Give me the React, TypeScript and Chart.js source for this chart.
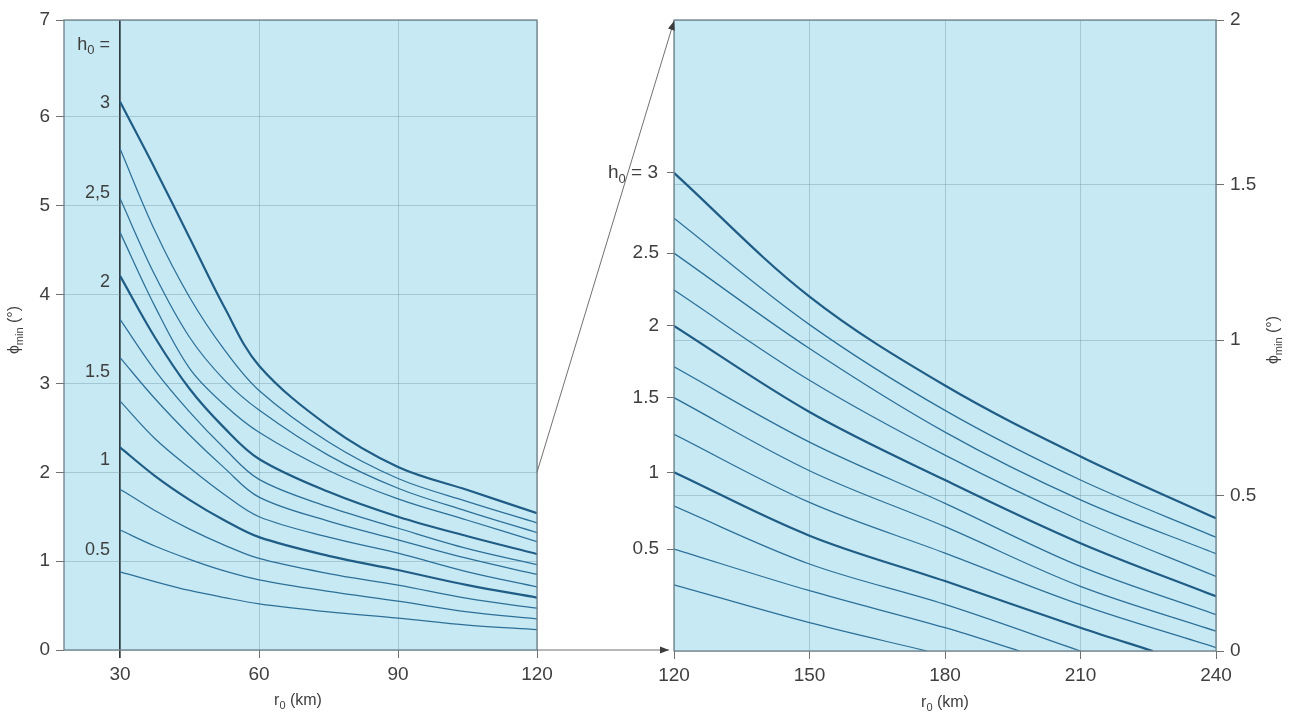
import React, { useEffect, useRef } from "react";
import { Chart, registerables } from "chart.js";

Chart.register(...registerables);

const W = 1291;
const H = 722;

// h0 values of the curves (top to bottom)
const H_VALUES = [3, 2.75, 2.5, 2.25, 2, 1.75, 1.5, 1.25, 1, 0.75, 0.5, 0.25];
const THICK_H = [3, 2, 1];

// ---------- Left panel (r0 30..120 km) ----------
const LEFT_R = [30, 37.5, 45, 52.5, 60, 75, 90, 105, 120];
const L300 = [6.17, 5.42, 4.64, 3.86, 3.2, 2.52, 2.06, 1.8, 1.54];
const L275 = [5.64, 4.72, 3.97, 3.38, 2.92, 2.34, 1.93, 1.67, 1.43];
const L250 = [5.08, 4.22, 3.52, 3.04, 2.7, 2.19, 1.82, 1.56, 1.32];
const L225 = [4.7, 3.87, 3.17, 2.76, 2.45, 2.02, 1.7, 1.46, 1.22];
const L200 = [4.21, 3.52, 2.94, 2.5, 2.15, 1.78, 1.5, 1.28, 1.08];
const L175 = [3.72, 3.15, 2.68, 2.27, 1.92, 1.61, 1.37, 1.14, 0.96];
const L150 = [3.29, 2.83, 2.42, 2.05, 1.72, 1.45, 1.24, 1.03, 0.85];
const L125 = [2.8, 2.38, 2.05, 1.75, 1.5, 1.27, 1.09, 0.88, 0.71];
const L100 = [2.28, 1.96, 1.69, 1.46, 1.27, 1.06, 0.9, 0.73, 0.59];
const L075 = [1.81, 1.57, 1.36, 1.18, 1.03, 0.86, 0.73, 0.58, 0.47];
const L050 = [1.35, 1.17, 1.02, 0.89, 0.79, 0.66, 0.55, 0.43, 0.35];
const L025 = [0.88, 0.77, 0.67, 0.59, 0.52, 0.43, 0.36, 0.28, 0.23];
const LEFT_SERIES = [L300, L275, L250, L225, L200, L175, L150, L125, L100, L075, L050, L025];

const LEFT_X_MIN = 17.9;
const LEFT_X_MAX = 120;
const LEFT_Y_TOP = 7.09;
const LEFT_X_TICKS = [30, 60, 90, 120];
const LEFT_Y_TICKS = [0, 1, 2, 3, 4, 5, 6, 7];
const LEFT_H_LABELS = ["3", "2,5", "2", "1.5", "1", "0.5"];
const LEFT_H_LABEL_Y = [6.15, 5.14, 4.14, 3.13, 2.14, 1.13];
const LEFT_H_TITLE_Y = 6.81;

// ---------- Right panel (r0 120..240 km) ----------
const RIGHT_R = [120, 150, 180, 210, 240];
const R300 = [1.538, 1.14, 0.854, 0.626, 0.427];
const R275 = [1.392, 1.05, 0.774, 0.55, 0.366];
const R250 = [1.28, 0.973, 0.704, 0.486, 0.313];
const R225 = [1.161, 0.871, 0.63, 0.42, 0.24];
const R200 = [1.046, 0.769, 0.55, 0.347, 0.176];
const R175 = [0.914, 0.672, 0.475, 0.272, 0.117];
const R150 = [0.815, 0.58, 0.4, 0.208, 0.064];
const R125 = [0.697, 0.478, 0.315, 0.149, 0.011];
const R100 = [0.575, 0.371, 0.225, 0.075];
const R075 = [0.466, 0.28, 0.15];
const R050 = [0.328, 0.194, 0.075];
const R025 = [0.213, 0.091];
const RIGHT_SERIES = [R300, R275, R250, R225, R200, R175, R150, R125, R100, R075, R050, R025];
// r0 where a curve reaches 0 (null = runs to the edge)
const RIGHT_ZERO_AT = [null, null, null, null, null, null, null, null, 226, 210, 196.5, 176];

const RIGHT_Y_TOP = 2.03;
const RIGHT_X_TICKS = [120, 150, 180, 210, 240];
const RIGHT_Y_TICKS = [0, 0.5, 1, 1.5, 2];
const RIGHT_H_LABELS = ["3", "2.5", "2", "1.5", "1", "0.5"];
const RIGHT_H_SERIES_INDEX = [0, 2, 4, 6, 8, 10];

// ---------- Styles ----------
const FONT = "'Liberation Sans', Arial, sans-serif";
const TEXT = "#3f3f3f";
const BG = "#c7e9f3";
const GRID = "rgba(100,140,158,0.36)";
const FRAME = "#6f8089";
const LINE = "#2c7099";
const LINE_THICK = "#1f5d86";
const DARK = "#2e3a40";

type Part = { t: string; sub?: boolean };

function drawParts(
  ctx: CanvasRenderingContext2D,
  parts: Part[],
  x: number,
  y: number,
  align: "left" | "right" | "center",
  size: number
) {
  const big = `${size}px ${FONT}`;
  const small = `${Math.round(size * 0.7)}px ${FONT}`;
  const widths = parts.map((p) => {
    ctx.font = p.sub ? small : big;
    return ctx.measureText(p.t).width;
  });
  const total = widths.reduce((a, b) => a + b, 0);
  let cx = align === "left" ? x : align === "right" ? x - total : x - total / 2;
  ctx.textAlign = "left";
  ctx.textBaseline = "middle";
  parts.forEach((p, i) => {
    ctx.font = p.sub ? small : big;
    ctx.fillText(p.t, cx, y + (p.sub ? size * 0.32 : 0));
    cx += widths[i];
  });
}

function arrowHead(ctx: CanvasRenderingContext2D, x0: number, y0: number, x1: number, y1: number) {
  const ang = Math.atan2(y1 - y0, x1 - x0);
  const len = 9;
  const half = 3.5;
  ctx.beginPath();
  ctx.moveTo(x1, y1);
  ctx.lineTo(x1 - len * Math.cos(ang) + half * Math.sin(ang), y1 - len * Math.sin(ang) - half * Math.cos(ang));
  ctx.lineTo(x1 - len * Math.cos(ang) - half * Math.sin(ang), y1 - len * Math.sin(ang) + half * Math.cos(ang));
  ctx.closePath();
  ctx.fill();
}

const panelPlugin = {
  id: "panel",
  beforeDraw(chart: any) {
    const { ctx, chartArea: a } = chart;
    ctx.save();
    ctx.fillStyle = BG;
    ctx.fillRect(a.left, a.top, a.right - a.left, a.bottom - a.top);
    ctx.restore();
  },
  afterDatasetsDraw(chart: any) {
    const { ctx, chartArea: a } = chart;
    ctx.save();
    ctx.strokeStyle = FRAME;
    ctx.lineWidth = 1.3;
    ctx.strokeRect(a.left, a.top, a.right - a.left, a.bottom - a.top);
    ctx.restore();
  },
};

function makeDataset(points: { x: number; y: number }[], h: number) {
  const thick = THICK_H.includes(h);
  return {
    data: points,
    borderColor: thick ? LINE_THICK : LINE,
    borderWidth: thick ? 2.2 : 1.25,
    pointRadius: 0,
    fill: false,
    tension: 0.35,
  };
}

const tickFont = { family: FONT, size: 19 };

export default function App() {
  const refA = useRef<HTMLCanvasElement>(null);
  const refB = useRef<HTMLCanvasElement>(null);

  useEffect(() => {
    const leftDatasets = LEFT_SERIES.map((vals, i) =>
      makeDataset(vals.map((y, j) => ({ x: LEFT_R[j], y })), H_VALUES[i])
    );

    const leftText = {
      id: "leftText",
      afterDraw(chart: any) {
        const { ctx } = chart;
        const xs = chart.scales.x;
        const ys = chart.scales.y;
        ctx.save();
        ctx.fillStyle = TEXT;
        const xr = xs.getPixelForValue(30) - 10;
        drawParts(ctx, [{ t: "h" }, { t: "0", sub: true }, { t: " =" }], xr, ys.getPixelForValue(LEFT_H_TITLE_Y), "right", 18);
        LEFT_H_LABELS.forEach((lab, i) => {
          drawParts(ctx, [{ t: lab }], xr, ys.getPixelForValue(LEFT_H_LABEL_Y[i]), "right", 18);
        });
        // axis titles
        drawParts(ctx, [{ t: "r" }, { t: "0", sub: true }, { t: " (km)" }], 298, 701, "center", 16);
        ctx.translate(15, 330);
        ctx.rotate(-Math.PI / 2);
        drawParts(ctx, [{ t: "ϕ" }, { t: "min", sub: true }, { t: " (°)" }], 0, 0, "center", 16);
        ctx.restore();
      },
    };

    const chartA = new Chart(refA.current as HTMLCanvasElement, {
      type: "line",
      data: { datasets: leftDatasets as any },
      plugins: [panelPlugin, leftText],
      options: {
        responsive: false,
        animation: false,
        events: [],
        layout: { padding: { left: 0, top: 20, right: W - 537, bottom: 0 } },
        plugins: { legend: { display: false }, tooltip: { enabled: false } },
        scales: {
          x: {
            type: "linear",
            min: LEFT_X_MIN,
            max: LEFT_X_MAX,
            afterBuildTicks: (s: any) => {
              s.ticks = LEFT_X_TICKS.map((v) => ({ value: v }));
            },
            afterFit: (s: any) => {
              s.height = 72;
            },
            border: { display: false },
            grid: {
              color: (c: any) => (c.tick && c.tick.value === 30 ? DARK : GRID),
              lineWidth: (c: any) => (c.tick && c.tick.value === 30 ? 1.7 : 1),
              tickColor: (c: any) => (c.tick && c.tick.value === 30 ? DARK : "#707070"),
              tickLength: 8,
            },
            ticks: {
              font: tickFont,
              color: TEXT,
              padding: 5,
              maxRotation: 0,
              autoSkip: false,
              callback: (v: any) => String(v),
            },
          },
          y: {
            type: "linear",
            min: 0,
            max: LEFT_Y_TOP,
            afterBuildTicks: (s: any) => {
              const last = LEFT_Y_TICKS.length - 1;
              s.ticks = LEFT_Y_TICKS.map((v, i) => ({ value: i === last ? LEFT_Y_TOP : v }));
            },
            afterFit: (s: any) => {
              s.width = 64;
            },
            border: { display: false },
            grid: { color: GRID, lineWidth: 1, tickColor: "#707070", tickLength: 8 },
            ticks: {
              font: tickFont,
              color: TEXT,
              padding: 6,
              autoSkip: false,
              callback: (_v: any, i: number) => String(LEFT_Y_TICKS[i]),
            },
          },
        },
      } as any,
    });

    const rightDatasets = RIGHT_SERIES.map((vals, i) => {
      const pts = vals.map((y, j) => ({ x: RIGHT_R[j], y }));
      const z = RIGHT_ZERO_AT[i];
      if (z !== null) pts.push({ x: z, y: 0 });
      return { ...makeDataset(pts, H_VALUES[i]), xAxisID: "x", yAxisID: "y" };
    });

    const rightText = {
      id: "rightText",
      afterDraw(chart: any) {
        const { ctx, chartArea } = chart;
        const xb = chart.scales.x;
        const yb = chart.scales.y;
        const xa = chartA.scales.x;
        const ya = chartA.scales.y;
        ctx.save();
        // arrows
        ctx.strokeStyle = "#707070";
        ctx.fillStyle = "#3c3c3c";
        ctx.lineWidth = 1;
        const p0x = xa.getPixelForValue(120);
        const p0y = ya.getPixelForValue(2);
        const p1x = xb.getPixelForValue(120);
        const p1y = chartArea.top + 1;
        ctx.beginPath();
        ctx.moveTo(p0x, p0y);
        ctx.lineTo(p1x, p1y);
        ctx.stroke();
        arrowHead(ctx, p0x, p0y, p1x, p1y);
        const b0x = xa.getPixelForValue(120);
        const b0y = ya.getPixelForValue(0);
        const b1x = xb.getPixelForValue(120) - 5;
        ctx.beginPath();
        ctx.moveTo(b0x, b0y);
        ctx.lineTo(b1x, b0y);
        ctx.stroke();
        arrowHead(ctx, b0x, b0y, b1x, b0y);
        // h0 = 3 label
        ctx.fillStyle = TEXT;
        const first = RIGHT_SERIES[RIGHT_H_SERIES_INDEX[0]][0];
        drawParts(
          ctx,
          [{ t: "h" }, { t: "0", sub: true }, { t: " = " + RIGHT_H_LABELS[0] }],
          chartArea.left - 16,
          yb.getPixelForValue(first),
          "right",
          19
        );
        // axis titles
        drawParts(ctx, [{ t: "r" }, { t: "0", sub: true }, { t: " (km)" }], 945, 703, "center", 16);
        ctx.translate(1274, 340);
        ctx.rotate(-Math.PI / 2);
        drawParts(ctx, [{ t: "ϕ" }, { t: "min", sub: true }, { t: " (°)" }], 0, 0, "center", 16);
        ctx.restore();
      },
    };

    const chartB = new Chart(refB.current as HTMLCanvasElement, {
      type: "line",
      data: { datasets: rightDatasets as any },
      plugins: [panelPlugin, rightText],
      options: {
        responsive: false,
        animation: false,
        events: [],
        layout: { padding: { left: 574, top: 20, right: 0, bottom: 0 } },
        plugins: { legend: { display: false }, tooltip: { enabled: false } },
        scales: {
          x: {
            type: "linear",
            min: 120,
            max: 240,
            afterBuildTicks: (s: any) => {
              s.ticks = RIGHT_X_TICKS.map((v) => ({ value: v }));
            },
            afterFit: (s: any) => {
              s.height = 71;
            },
            border: { display: false },
            grid: { color: GRID, lineWidth: 1, tickColor: "#707070", tickLength: 8 },
            ticks: {
              font: tickFont,
              color: TEXT,
              padding: 5,
              maxRotation: 0,
              autoSkip: false,
              callback: (v: any) => String(v),
            },
          },
          y: {
            type: "linear",
            position: "right",
            min: 0,
            max: RIGHT_Y_TOP,
            afterBuildTicks: (s: any) => {
              const last = RIGHT_Y_TICKS.length - 1;
              s.ticks = RIGHT_Y_TICKS.map((v, i) => ({ value: i === last ? RIGHT_Y_TOP : v }));
            },
            afterFit: (s: any) => {
              s.width = 75;
            },
            border: { display: false },
            grid: { color: GRID, lineWidth: 1, tickColor: "#707070", tickLength: 8 },
            ticks: {
              font: tickFont,
              color: TEXT,
              padding: 6,
              autoSkip: false,
              callback: (_v: any, i: number) => String(RIGHT_Y_TICKS[i]),
            },
          },
          yh: {
            type: "linear",
            axis: "y",
            position: "left",
            min: 0,
            max: RIGHT_Y_TOP,
            afterBuildTicks: (s: any) => {
              s.ticks = RIGHT_H_SERIES_INDEX.map((k) => ({ value: RIGHT_SERIES[k][0] }));
            },
            afterFit: (s: any) => {
              s.width = 100;
            },
            border: { display: false },
            grid: { drawOnChartArea: false, tickColor: "#707070", tickLength: 7 },
            ticks: {
              font: tickFont,
              color: TEXT,
              padding: 8,
              autoSkip: false,
              callback: (_v: any, i: number) => (i === 0 ? "" : RIGHT_H_LABELS[i]),
            },
          },
        },
      } as any,
    });

    return () => {
      chartB.destroy();
      chartA.destroy();
    };
  }, []);

  return (
    <div style={{ position: "absolute", left: 0, top: 0, width: W, height: H, background: "#ffffff" }}>
      <canvas ref={refA} width={W} height={H} style={{ position: "absolute", left: 0, top: 0 }} />
      <canvas ref={refB} width={W} height={H} style={{ position: "absolute", left: 0, top: 0 }} />
    </div>
  );
}
